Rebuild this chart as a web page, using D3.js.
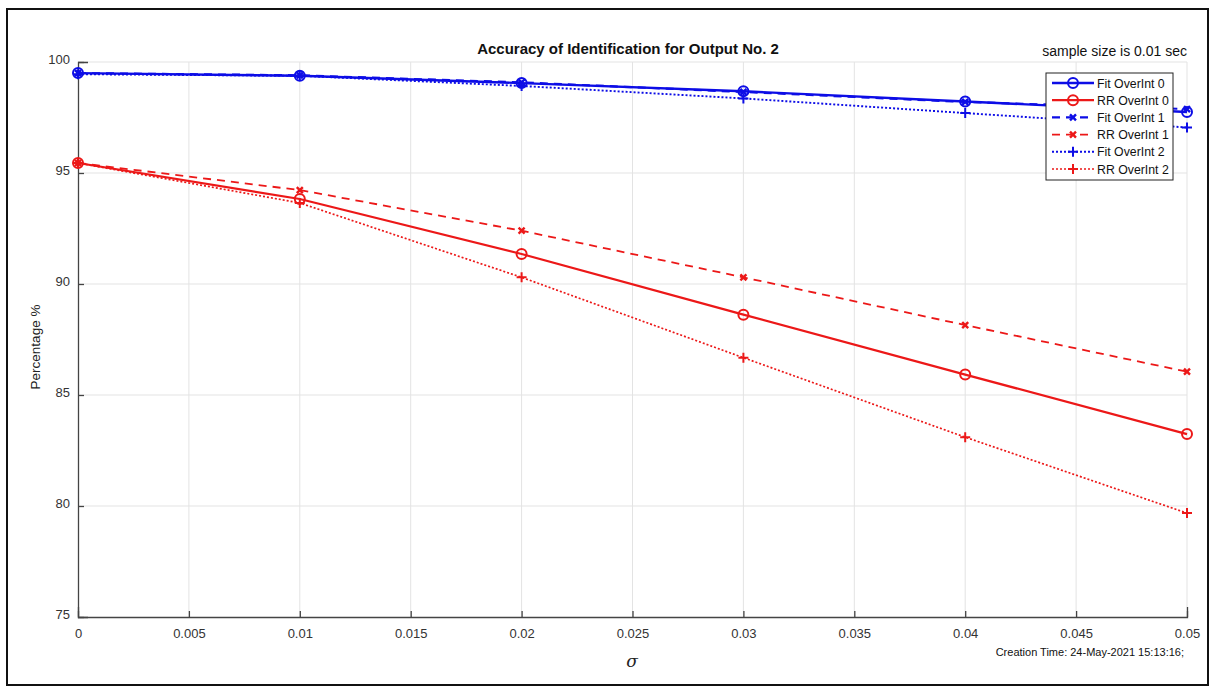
<!DOCTYPE html>
<html>
<head>
<meta charset="utf-8">
<script src="https://cdn.jsdelivr.net/npm/d3@7"></script>
<style>
  body { margin: 0; background: #fff; }
  svg { font-family: "Liberation Sans", Arial, sans-serif; }
</style>
</head>
<body>
<div id="chart"></div>
<script>
// sigma values on x axis
var sigma = [0, 0.01, 0.02, 0.03, 0.04, 0.05];
var xTicks = [0, 0.005, 0.01, 0.015, 0.02, 0.025, 0.03, 0.035, 0.04, 0.045, 0.05];
var yTicks = [75, 80, 85, 90, 95, 100];

// accuracy values (%)
var fit0 = [99.5, 99.38, 99.05, 98.68, 98.22, 97.75];
var rr0  = [95.45, 93.83, 91.35, 88.62, 85.92, 83.24];
var fit1 = [99.5, 99.4, 99.08, 98.65, 98.2, 97.88];
var rr1  = [95.45, 94.23, 92.4, 90.3, 88.15, 86.05];
var fit2 = [99.45, 99.38, 98.92, 98.36, 97.7, 97.05];
var rr2  = [95.45, 93.65, 90.3, 86.68, 83.1, 79.68];

var seriesNames = ["Fit OverInt 0", "RR OverInt 0", "Fit OverInt 1", "RR OverInt 1", "Fit OverInt 2", "RR OverInt 2"];

var blue = "#0d0de6", red = "#ec1818";
var series = [
  {name: seriesNames[0], values: fit0, color: blue, dash: null, width: 2.4, marker: "o"},
  {name: seriesNames[1], values: rr0, color: red, dash: null, width: 2.2, marker: "o"},
  {name: seriesNames[2], values: fit1, color: blue, dash: "8,6", width: 2.2, marker: "x"},
  {name: seriesNames[3], values: rr1, color: red, dash: "8,6", width: 1.8, marker: "x"},
  {name: seriesNames[4], values: fit2, color: blue, dash: "2,2", width: 1.9, marker: "+"},
  {name: seriesNames[5], values: rr2, color: red, dash: "2,2", width: 1.7, marker: "+"}
];

var width = 1214, height = 689;
var margin = {top: 62, left: 78, right: 27, bottom: 72};

var svg = d3.select("#chart").append("svg")
    .attr("width", width)
    .attr("height", height);

// outer frame
svg.append("rect")
  .attr("x", 7).attr("y", 9)
  .attr("width", 1201).attr("height", 676)
  .attr("fill", "none")
  .attr("stroke", "#111")
  .attr("stroke-width", 2);

var x = d3.scaleLinear().domain([0, 0.05]).range([margin.left, width - margin.right]);
var y = d3.scaleLinear().domain([75, 100]).range([height - margin.bottom, margin.top]);

// grid
svg.append("g").selectAll("line").data(xTicks.slice(1))
  .enter().append("line")
  .attr("x1", d => x(d)).attr("x2", d => x(d))
  .attr("y1", y(75)).attr("y2", y(100))
  .attr("stroke", "#e3e3e3").attr("stroke-width", 1);
svg.append("g").selectAll("line").data(yTicks.slice(1))
  .enter().append("line")
  .attr("x1", x(0)).attr("x2", x(0.05))
  .attr("y1", d => y(d)).attr("y2", d => y(d))
  .attr("stroke", "#e3e3e3").attr("stroke-width", 1);

// axes
var xAxis = d3.axisBottom(x).tickValues(xTicks).tickSize(-10).tickPadding(12)
  .tickFormat(d => d === 0 ? "0" : String(+d.toFixed(3)));
var gx = svg.append("g").attr("transform", "translate(0," + y(75) + ")").call(xAxis);
var yAxis = d3.axisLeft(y).tickValues(yTicks).tickSize(-10).tickPadding(8);
var gy = svg.append("g").attr("transform", "translate(" + x(0) + ",0)").call(yAxis);
[gx, gy].forEach(function(g) {
  g.select(".domain").attr("stroke", "#444").attr("stroke-width", 1.3);
  g.selectAll(".tick line").attr("stroke", "#444").attr("stroke-width", 1.3);
  g.selectAll(".tick text").attr("fill", "#333").style("font-size", "13px")
    .style("font-family", "Liberation Sans, Arial, sans-serif");
});
gx.selectAll(".tick line").attr("y2", d => -6);
gy.selectAll(".tick line").attr("x2", 6);
gy.selectAll(".tick text").attr("dy", "0.1em");

// lines
var line = d3.line().x((d, i) => x(sigma[i])).y(d => y(d));

function drawMarker(g, type, color, cx, cy) {
  if (type === "o") {
    g.append("circle").attr("cx", cx).attr("cy", cy).attr("r", 5)
      .attr("fill", "none").attr("stroke", color).attr("stroke-width", 2);
  } else if (type === "x") {
    var s = 3;
    g.append("path")
      .attr("d", "M" + (cx - s) + "," + (cy - s) + "L" + (cx + s) + "," + (cy + s) +
                 "M" + (cx - s) + "," + (cy + s) + "L" + (cx + s) + "," + (cy - s))
      .attr("stroke", color).attr("stroke-width", 2.4);
  } else {
    var p = 5;
    g.append("path")
      .attr("d", "M" + (cx - p) + "," + cy + "L" + (cx + p) + "," + cy +
                 "M" + cx + "," + (cy - p) + "L" + cx + "," + (cy + p))
      .attr("stroke", color).attr("stroke-width", 2);
  }
}

// draw RR first then Fit like the reference stacking
var order = [1, 3, 5, 0, 2, 4];
order.forEach(function(k) {
  var s = series[k];
  var g = svg.append("g");
  g.append("path").datum(s.values)
    .attr("d", line)
    .attr("fill", "none")
    .attr("stroke", s.color)
    .attr("stroke-width", s.width)
    .attr("stroke-dasharray", s.dash);
  s.values.forEach(function(v, i) { drawMarker(g, s.marker, s.color, x(sigma[i]), y(v)); });
});

// title and notes
svg.append("text").attr("x", 628).attr("y", 54)
  .attr("text-anchor", "middle").style("font-size", "15px").style("font-weight", "bold")
  .attr("fill", "#111")
  .text("Accuracy of Identification for Output No. 2");
svg.append("text").attr("x", 1187).attr("y", 56)
  .attr("text-anchor", "end").style("font-size", "14px").attr("fill", "#111")
  .text("sample size is 0.01 sec");
svg.append("text").attr("x", 1184).attr("y", 656)
  .attr("text-anchor", "end").style("font-size", "11px").attr("fill", "#111")
  .text("Creation Time: 24-May-2021 15:13:16;");

// axis labels
svg.append("text").attr("x", 632).attr("y", 667)
  .attr("text-anchor", "middle")
  .style("font-family", "DejaVu Serif, serif").style("font-style", "italic").style("font-size", "17px")
  .attr("fill", "#222")
  .text("σ");
svg.append("text")
  .attr("transform", "translate(40,347) rotate(-90)")
  .attr("text-anchor", "middle").style("font-size", "13.5px").attr("fill", "#222")
  .text("Percentage %");

// legend
var lg = svg.append("g");
lg.append("rect").attr("x", 1046).attr("y", 73).attr("width", 127).attr("height", 107)
  .attr("fill", "#fff").attr("stroke", "#222").attr("stroke-width", 1);
series.forEach(function(s, i) {
  var cy = 83 + i * 17.2;
  lg.append("line").attr("x1", 1052).attr("x2", 1094).attr("y1", cy).attr("y2", cy)
    .attr("stroke", s.color).attr("stroke-width", s.width).attr("stroke-dasharray", s.dash);
  drawMarker(lg, s.marker, s.color, 1073, cy);
  lg.append("text").attr("x", 1097).attr("y", cy + 4.5)
    .style("font-size", "12.3px").attr("fill", "#111").text(s.name);
});
</script>
</body>
</html>
